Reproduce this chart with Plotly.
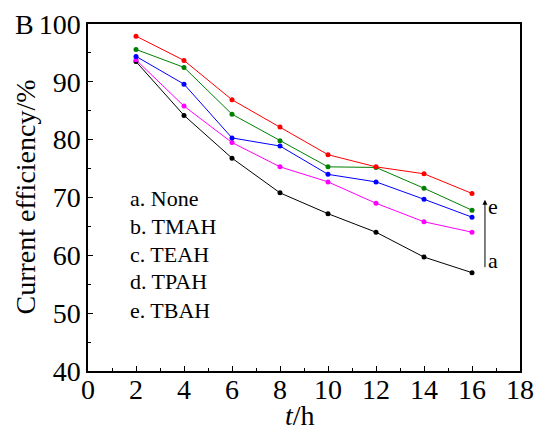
import plotly.graph_objects as go

t = [2, 4, 6, 8, 10, 12, 14, 16]
none_ = [93.5, 84.2, 76.8, 70.8, 67.2, 64.0, 59.7, 57.0]
tmah = [93.8, 85.8, 79.5, 75.3, 72.7, 69.0, 65.8, 64.0]
teah = [94.4, 89.6, 80.3, 78.9, 74.0, 72.7, 69.7, 66.6]
tpah = [95.6, 92.5, 84.4, 79.8, 75.3, 75.2, 71.6, 67.8]
tbah = [97.9, 93.7, 86.9, 82.2, 77.4, 75.3, 74.1, 70.7]

series = [
    ("a. None", none_, "#000000"),
    ("b. TMAH", tmah, "#FF00FF"),
    ("c. TEAH", teah, "#0000FF"),
    ("d. TPAH", tpah, "#008000"),
    ("e. TBAH", tbah, "#FF0000"),
]
legend_y = [69.8, 65.0, 60.2, 55.4, 50.5]

FONT = "Liberation Serif"
fig = go.Figure()
for name, vals, col in series:
    fig.add_trace(go.Scatter(x=t, y=vals, mode="lines+markers", name=name,
                             line=dict(color=col, width=1),
                             marker=dict(color=col, size=5)))

for (name, _, _), yy in zip(series, legend_y):
    fig.add_annotation(x=1.67, y=yy, text=name, showarrow=False, xanchor="left",
                       yanchor="middle", font=dict(family=FONT, size=22, color="black"))

# arrow a -> e
fig.add_annotation(x=16.54, y=69.6, ax=16.54, ay=57.7, xref="x", yref="y",
                   axref="x", ayref="y", showarrow=True, arrowhead=2, arrowsize=1,
                   arrowwidth=1, arrowcolor="black", text="")
fig.add_annotation(x=16.6, y=68.4, text="e", showarrow=False, xanchor="left",
                   font=dict(family=FONT, size=22, color="black"))
fig.add_annotation(x=16.6, y=59.1, text="a", showarrow=False, xanchor="left",
                   font=dict(family=FONT, size=22, color="black"))
fig.add_annotation(x=(25 - 88) / 432, y=1.0, xref="paper", yref="paper", text="B",
                   showarrow=False, xanchor="center", yanchor="middle",
                   font=dict(family=FONT, size=28, color="black"))
# axis titles
fig.add_annotation(x=(300 - 88) / 432, y=-(415 - 371) / 347, xref="paper", yref="paper",
                   text="<i>t</i>/h", showarrow=False, xanchor="center", yanchor="middle",
                   font=dict(family=FONT, size=28, color="black"))
fig.add_annotation(x=(25 - 88) / 432, y=0.5, xref="paper", yref="paper",
                   text="Current efficiency/%", textangle=-90,
                   showarrow=False, xanchor="center", yanchor="middle",
                   font=dict(family=FONT, size=28, color="black"))

fig.update_layout(
    width=536, height=430, margin=dict(l=88, r=16, t=24, b=59),
    plot_bgcolor="white", paper_bgcolor="white", showlegend=False,
    font=dict(family=FONT, size=27, color="black"),
    xaxis=dict(range=[0, 18], dtick=2, tick0=0, ticks="inside", ticklen=5, tickwidth=1,
               tickcolor="black", showline=True, linecolor="black", linewidth=1.5,
               mirror=True, showgrid=False, zeroline=False, ticklabelstandoff=-7,
               automargin=False,
               minor=dict(dtick=1, ticks="inside", ticklen=3, tickcolor="black"),
               tickfont=dict(size=28)),
    yaxis=dict(range=[40, 100], dtick=10, ticks="inside", ticklen=5, tickwidth=1,
               tickcolor="black", showline=True, linecolor="black", linewidth=1.5,
               mirror=True, showgrid=False, zeroline=False, automargin=False,
               minor=dict(dtick=5, ticks="inside", ticklen=3, tickcolor="black"),
               tickfont=dict(size=28)),
)
fig.write_html("out.html")
